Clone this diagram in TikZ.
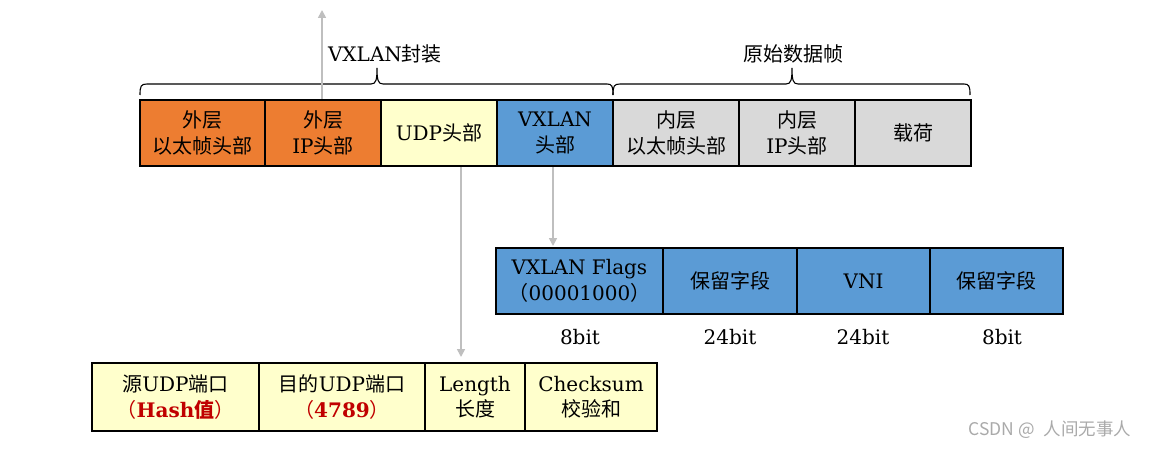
\documentclass[tikz,border=0pt]{standalone}
\usepackage{fontspec}
\setmainfont{DejaVu Serif}
\newfontfamily\cjk{Noto Sans CJK SC}
\usetikzlibrary{arrows.meta}
\definecolor{orng}{RGB}{237,125,49}
\definecolor{ylw}{RGB}{255,255,204}
\definecolor{blu}{RGB}{91,155,213}
\definecolor{gry}{RGB}{217,217,217}
\definecolor{arrc}{RGB}{191,191,191}
\definecolor{redt}{RGB}{192,0,0}
\definecolor{wmc}{RGB}{170,170,170}
\newcommand\zh[1]{{\cjk #1}}
\begin{document}
\begin{tikzpicture}[x=1pt,y=-1pt,
  field/.style={draw=black,line width=2.2pt,rectangle,inner sep=0pt,align=center,
    font=\fontsize{20}{25.5}\selectfont},
  lbl/.style={inner sep=0pt,align=center,font=\fontsize{20}{25.5}\selectfont},
  conn/.style={draw=arrc,line width=1.6pt,-{Triangle[width=8pt,length=8pt]}},
  brc/.style={draw=black,line width=1.1pt}]
\useasboundingbox (0,0) rectangle (1155,449);
\fill[white] (0,0) rectangle (1155,449);

% top row
\node[field,fill=orng,minimum width=125,minimum height=66] (b1) at (202.5,133) {\zh{外层}\\\zh{以太帧头部}};
\node[field,fill=orng,minimum width=116,minimum height=66] (b2) at (323,133) {\zh{外层}\\IP\zh{头部}};
\node[field,fill=ylw,minimum width=116,minimum height=66] (b3) at (439,133) {UDP\zh{头部}};
\node[field,fill=blu,minimum width=116,minimum height=66] (b4) at (555,133) {VXLAN\\\zh{头部}};
\node[field,fill=gry,minimum width=126,minimum height=66] (b5) at (676,133) {\zh{内层}\\\zh{以太帧头部}};
\node[field,fill=gry,minimum width=116,minimum height=66] (b6) at (797,133) {\zh{内层}\\IP\zh{头部}};
\node[field,fill=gry,minimum width=116,minimum height=66] (b7) at (913,133) {\zh{载荷}};

% braces
\draw[brc] (140,95) .. controls (140,86) and (141,84) .. (147,84) -- (371,84)
  .. controls (376,84) and (377,80) .. (377,68) .. controls (377,80) and (378,84) .. (383,84)
  -- (607,84) .. controls (612,84) and (613,86) .. (613,95);
\draw[brc] (613,95) .. controls (613,86) and (614,84) .. (620,84) -- (786,84)
  .. controls (791,84) and (792,80) .. (792,68) .. controls (792,80) and (793,84) .. (798,84)
  -- (964,84) .. controls (969,84) and (970,86) .. (970,95);
\node[lbl] (t1) at (385,54) {VXLAN\zh{封装}};
\node[lbl] (t2) at (793,54) {\zh{原始数据帧}};

% VXLAN header table
\node[field,fill=blu,minimum width=167,minimum height=66] (v1) at (579.5,281) {VXLAN Flags\\\zh{（}00001000\zh{）}};
\node[field,fill=blu,minimum width=134,minimum height=66] (v2) at (730,281) {\zh{保留字段}};
\node[field,fill=blu,minimum width=133,minimum height=66] (v3) at (863.5,281) {VNI};
\node[field,fill=blu,minimum width=133,minimum height=66] (v4) at (996.5,281) {\zh{保留字段}};
\node[lbl] (s1) at (580,337) {8bit};
\node[lbl] (s2) at (730,337) {24bit};
\node[lbl] (s3) at (863,337) {24bit};
\node[lbl] (s4) at (1002,337) {8bit};

% UDP header table
\node[field,fill=ylw,minimum width=167,minimum height=68] (u1) at (175.5,397) {\zh{源}UDP\zh{端口}\\\textcolor{redt}{\zh{（}\textbf{Hash}{\cjk\bfseries 值}\zh{）}}};
\node[field,fill=ylw,minimum width=166,minimum height=68] (u2) at (342,397) {\zh{目的}UDP\zh{端口}\\\textcolor{redt}{\zh{（}\textbf{4789}\zh{）}}};
\node[field,fill=ylw,minimum width=100,minimum height=68] (u3) at (475,397) {Length\\\zh{长度}};
\node[field,fill=ylw,minimum width=132,minimum height=68] (u4) at (591,397) {Checksum\\\zh{校验和}};

% connectors
\coordinate (topend) at (322,10);
\coordinate (udpend) at (461,357);
\coordinate (vxend) at (553,246);
\draw[conn] (b2.north -| topend) -- (topend);
\draw[conn] (b3.south -| udpend) -- (udpend);
\draw[conn] (b4.south -| vxend) -- (vxend);

% watermark
\node[inner sep=0pt,text=wmc,font=\cjk\fontsize{17.5}{19}\selectfont] (wm) at (1050,430) {CSDN @\hspace{0.5em}人间无事人};
\end{tikzpicture}
\end{document}
